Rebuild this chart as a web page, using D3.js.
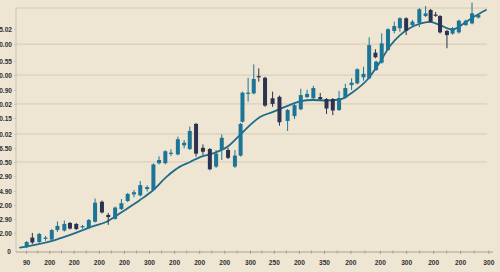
<!DOCTYPE html>
<html>
<head>
<meta charset="utf-8">
<script src="https://cdn.jsdelivr.net/npm/d3@7"></script>
<style>
  html, body { margin: 0; padding: 0; background: #efe5d3; }
  svg { display: block; }
</style>
</head>
<body>
<svg id="chart"></svg>
<script>
// candle data
const days  = [0, 0.9, 2, 3, 4, 4.9, 6, 6.9, 7.9, 8.9, 9.9, 10.9, 12, 13, 14.1, 15.1, 16.1, 17.1, 18.1, 19.2,
  20.2, 21.1, 22.1, 23, 24.1, 25.1, 26, 27, 28.1, 29.2, 30.2, 31.1, 32.1, 33.2, 34.1, 34.4, 35.3, 36.2, 37, 38,
  39.2, 40.3, 41.6, 42.7, 43.7, 44.7, 45.7, 46.8, 47.8, 48.8, 49.8, 50.8, 51.8, 52.7, 53.7, 54.6, 55.6, 55.7, 56.6, 57.6,
  58.6, 59.5, 60.5, 61.5, 62.6, 63.6, 64.4, 65.2, 65.9, 67, 67.9, 68.9, 70, 71, 72];
const open  = [2.0, 5.9, 4.1, 5.5, 5.1, 9.0, 8.8, 11.9, 11.5, 10.2, 9.8, 12.4, 20.6, 15.2, 13.6, 17.6, 20.9, 23.6, 23.2, 25.8,
  25.4, 36.4, 36.4, 40.2, 40.0, 43.7, 42.2, 52.5, 42.7, 42.2, 35.0, 41.8, 41.8, 35.0, 39.5, 53.4, 64.8, 65.0, 72.1, 71.4,
  63.0, 63.6, 53.7, 55.7, 58.5, 63.5, 63.0, 63.5, 62.7, 62.7, 58.2, 63.3, 68.4, 69.1, 71.6, 71.2, 81.7, 74.6, 77.6, 82.8,
  90.6, 91.7, 95.8, 93.0, 93.9, 96.7, 99.2, 97.3, 96.7, 90.6, 89.5, 90.0, 93.0, 93.7, 96.1];
const high  = [4.5, 7.8, 7.8, 6.6, 9.4, 12.5, 12.9, 12.3, 11.9, 11.1, 13.5, 21.9, 21.1, 16.0, 18.6, 21.7, 24.2, 25.4, 29.1, 27.3,
  36.3, 39.2, 41.7, 42.1, 47.3, 45.9, 51.4, 52.9, 44.1, 42.6, 41.8, 48.2, 42.7, 41.8, 52.9, 65.7, 71.4, 76.9, 75.3, 71.8,
  65.7, 64.1, 58.6, 61.2, 66.9, 66.5, 68.1, 65.2, 63.1, 63.1, 66.0, 68.9, 71.2, 75.3, 75.9, 88.0, 83.1, 78.4, 89.6, 91.7,
  94.4, 96.2, 96.2, 95.1, 99.9, 100.8, 99.6, 98.4, 97.1, 91.0, 92.2, 95.2, 95.2, 102.2, 97.5];
const low   = [1.6, 3.3, 3.7, 4.6, 4.7, 8.2, 8.4, 9.2, 9.0, 9.6, 9.4, 12.1, 15.8, 11.1, 13.2, 17.2, 20.5, 22.4, 22.8, 24.8,
  25.0, 35.9, 35.9, 39.3, 39.6, 42.5, 41.8, 39.1, 39.8, 33.5, 34.5, 37.7, 38.1, 34.5, 39.1, 53.0, 61.6, 64.6, 69.8, 59.5,
  59.5, 51.8, 49.6, 54.5, 58.1, 63.1, 62.6, 62.3, 56.6, 56.1, 57.8, 62.9, 66.4, 68.7, 70.2, 70.8, 79.4, 74.2, 77.2, 82.4,
  89.6, 90.3, 88.9, 92.3, 92.2, 96.3, 94.0, 96.4, 89.5, 83.5, 89.1, 89.5, 92.6, 93.3, 95.7];
const close = [4.1, 3.9, 7.4, 5.9, 9.0, 10.7, 11.5, 9.6, 9.4, 10.6, 13.1, 20.2, 16.2, 14.3, 18.2, 20.0, 23.8, 24.5, 27.4, 26.6,
  35.9, 37.7, 41.3, 40.7, 46.2, 44.8, 49.6, 40.3, 41.1, 33.9, 40.3, 46.8, 38.6, 39.5, 52.5, 65.3, 65.3, 70.9, 71.6, 60.0,
  60.7, 53.2, 58.2, 60.2, 64.3, 64.8, 67.2, 62.7, 58.8, 58.0, 63.1, 67.2, 69.4, 74.9, 73.0, 84.8, 79.8, 78.0, 85.5, 91.3,
  92.6, 95.8, 90.7, 94.4, 99.5, 97.8, 94.4, 96.9, 90.0, 88.9, 91.8, 94.8, 94.8, 97.8, 97.1];

// smoothed trend line
const trendDays = [-1.07, 1.32, 4.51, 7.7, 10.36, 12.76, 14.87, 18.06, 20.19, 22.32, 24.44, 26.04, 27.63, 29.7, 31.94, 34.01,
  35.61, 37.2, 39.27, 41.5, 43.57, 45.65, 47.88, 49.95, 52.02, 54.26, 56.33, 57.92, 59.52, 61.11, 62.71, 64.3, 65.9, 67.81,
  70.04, 71.48, 73.23];
const trendVals = [1.8, 2.9, 4.9, 7.7, 10.4, 12.4, 15.9, 21.3, 25.4, 30.9, 35.0, 36.9, 38.9, 40.4, 43.0, 48.0,
  52.0, 55.3, 57.4, 59.8, 61.7, 62.3, 62.1, 62.5, 65.6, 70.5, 77.9, 84.4, 88.9, 91.8, 93.6, 94.3, 93.0, 91.2,
  94.3, 96.7, 99.2];

// axis ticks
const yTickVals   = [7.8, 13.5, 19.3, 25.0, 31.1, 36.9, 42.6, 48.4, 54.9, 60.7, 66.4, 72.5, 78.3, 85.2, 91.4];
const yTickLabels = ['2.00', '2.90', '2.00', '4.90', '2.90', '0.50', '6.50', '0.02', '0.15', '0.02', '0.90', '0.00', '0.55', '0.00', '5.02'];
const gridVals    = [36.9, 48.4, 60.7, 72.5, 85.2, 100];
const xTickDays   = [-0.1, 3.6, 7.5, 11.5, 15.5, 19.5, 23.5, 27.5, 31.5, 35.6, 39.4, 43.4, 47.4, 51.6, 56.3, 60.5, 64.8, 69.1, 73.6];
const xTickLabels = ['90', '200', '200', '200', '200', '300', '200', '200', '200', '300', '250', '200', '350', '200', '200', '300', '200', '200', '300'];

const W = 500, H = 272,
  frame = { l: 16, r: 493, t: 8, b: 252 },
  upColor = '#1c7596', downColor = '#2c3350', lineColor = '#1d6c89';

const $svg = d3.select('#chart')
  .attr('width', W)
  .attr('height', H)
  .attr('viewBox', '0 0 ' + W + ' ' + H);

$svg.append('rect').attr('width', W).attr('height', H).attr('fill', '#efe5d3');

const x = d3.scaleLinear().domain([0, 72]).range([26.7, 478.3]),
  y = d3.scaleLinear().domain([0, 100]).range([frame.b, frame.t]);

// grid
$svg.append('g').selectAll('line')
  .data(gridVals)
  .enter()
  .append('line')
  .attr('x1', frame.l)
  .attr('x2', 487)
  .attr('y1', (d) => y(d))
  .attr('y2', (d) => y(d))
  .attr('stroke', '#d6cab4')
  .attr('stroke-width', 1);

// y axis
$svg.append('line')
  .attr('x1', frame.l).attr('x2', frame.l)
  .attr('y1', frame.t).attr('y2', frame.b)
  .attr('stroke', '#cfc3ad').attr('stroke-width', 1);

const yAxis = d3.axisLeft(y).tickValues(yTickVals).tickFormat((d, i) => yTickLabels[i]).tickSize(2).tickPadding(2);
const gy = $svg.append('g').attr('transform', 'translate(' + frame.l + ',0)').call(yAxis);
gy.select('.domain').remove();
gy.selectAll('line').attr('stroke', '#cfc3ad');
gy.selectAll('text')
  .attr('font-family', '"Liberation Sans", Arial, sans-serif')
  .attr('font-weight', 'bold')
  .attr('font-size', 6.6)
  .attr('fill', '#2f2f33');
$svg.append('text')
  .text('0')
  .attr('x', 11).attr('y', frame.b + 2.3)
  .attr('text-anchor', 'end')
  .attr('font-family', '"Liberation Sans", Arial, sans-serif')
  .attr('font-weight', 'bold')
  .attr('font-size', 6.6)
  .attr('fill', '#2f2f33');

// x axis
$svg.append('line')
  .attr('x1', frame.l).attr('x2', frame.r)
  .attr('y1', frame.b).attr('y2', frame.b)
  .attr('stroke', '#aaa08f').attr('stroke-width', 1);

const minorDays = d3.pairs(xTickDays).map((p) => (p[0] + p[1]) / 2);
$svg.append('g').selectAll('line')
  .data(minorDays)
  .enter()
  .append('line')
  .attr('x1', (d) => x(d)).attr('x2', (d) => x(d))
  .attr('y1', frame.b - 1.5).attr('y2', frame.b + 1.5)
  .attr('stroke', '#aaa08f');

const xAxis = d3.axisBottom(x).tickValues(xTickDays).tickFormat((d, i) => xTickLabels[i]).tickSize(2).tickPadding(6);
const gx = $svg.append('g').attr('transform', 'translate(0,' + frame.b + ')').call(xAxis);
gx.select('.domain').remove();
gx.selectAll('line').attr('stroke', '#aaa08f').attr('y1', -1.5);
gx.selectAll('text')
  .attr('font-family', '"Liberation Sans", Arial, sans-serif')
  .attr('font-weight', 'bold')
  .attr('font-size', 6.6)
  .attr('fill', '#2f2f33');

// trend line
const trend = d3.zip(trendDays, trendVals);
$svg.append('path')
  .datum(trend)
  .attr('fill', 'none')
  .attr('stroke', lineColor)
  .attr('stroke-width', 1.8)
  .attr('stroke-linecap', 'round')
  .attr('d', d3.line().x((d) => x(d[0])).y((d) => y(d[1])).curve(d3.curveMonotoneX));

// candles
const candles = days.map((d, i) => ({ day: d, o: open[i], h: high[i], l: low[i], c: close[i] }));
const cg = $svg.append('g').selectAll('g')
  .data(candles)
  .enter()
  .append('g')
  .attr('fill', (d) => d.c >= d.o ? upColor : downColor)
  .attr('stroke', (d) => d.c >= d.o ? upColor : downColor);

cg.append('line')
  .attr('x1', (d) => x(d.day)).attr('x2', (d) => x(d.day))
  .attr('y1', (d) => y(d.h)).attr('y2', (d) => y(d.l))
  .attr('stroke-width', 1);

cg.append('rect')
  .attr('x', (d) => x(d.day) - 2)
  .attr('width', 4)
  .attr('y', (d) => y(Math.max(d.o, d.c)))
  .attr('height', (d) => Math.max(1.2, Math.abs(y(d.o) - y(d.c))))
  .attr('stroke', 'none');
</script>
</body>
</html>
